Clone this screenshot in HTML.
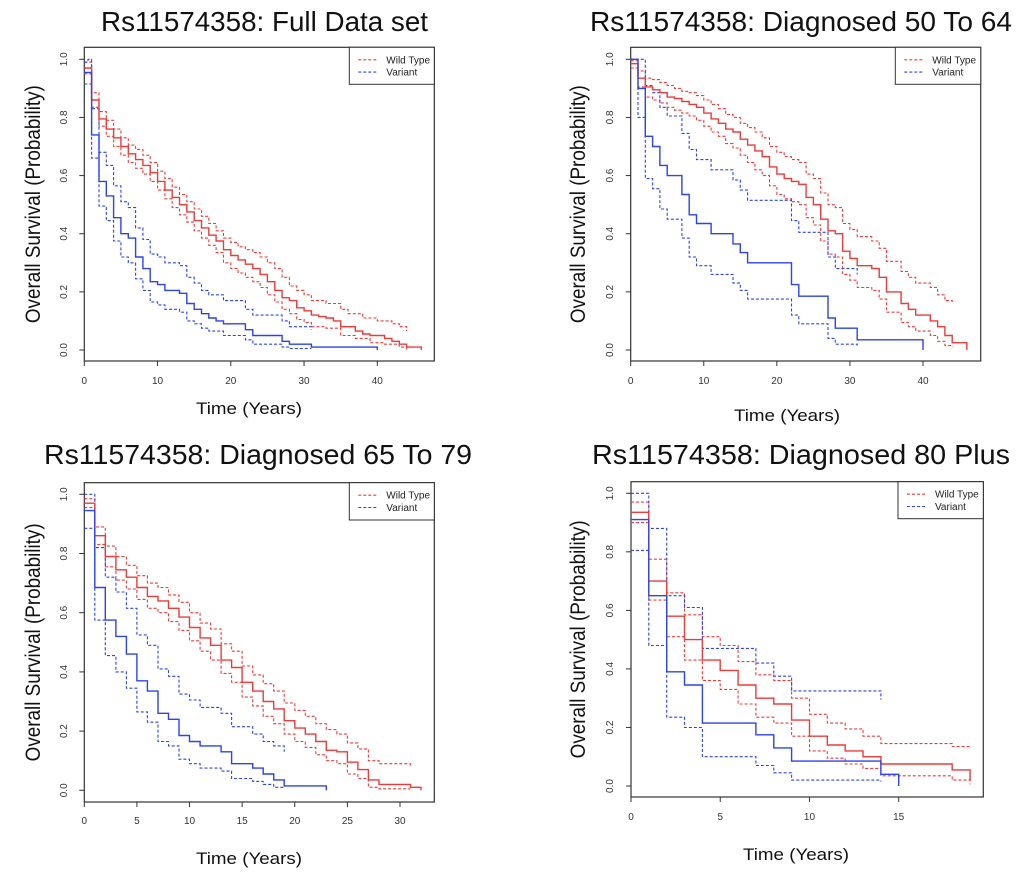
<!DOCTYPE html>
<html><head><meta charset="utf-8">
<style>
html,body{margin:0;padding:0;background:#fff;}
svg{display:block;font-family:"Liberation Sans",sans-serif;}
</style></head>
<body>
<svg id="fig" width="1020" height="872" viewBox="0 0 1020 872" xmlns="http://www.w3.org/2000/svg"></svg>
<script>
// ---- Panel 1: Full data set ----
const p1WtT = [0,1,2,3,4,5,6,7,8,9,10,11,12,13,14,15,16,17,18,19,20,21,22,23,24,25,26,27,28,29,30,31,32,33,34,35,37,38,39,41,42,43,44,46];
const p1WtS = [0.97,0.86,0.795,0.76,0.73,0.70,0.675,0.655,0.635,0.61,0.58,0.55,0.525,0.50,0.475,0.445,0.42,0.395,0.375,0.345,0.325,0.31,0.295,0.28,0.26,0.235,0.205,0.18,0.17,0.145,0.135,0.12,0.115,0.11,0.10,0.08,0.065,0.055,0.05,0.04,0.03,0.02,0.01,0.0];
const p1WtUT = [0,1,2,3,4,5,6,7,8,9,10,11,12,13,14,15,16,17,18,19,20,21,22,23,24,25,26,27,28,29,30,31,33,35,36,38,40,42,43,44];
const p1WtUS = [0.99,0.885,0.82,0.79,0.76,0.73,0.705,0.69,0.67,0.645,0.615,0.59,0.56,0.535,0.51,0.485,0.46,0.435,0.41,0.385,0.37,0.355,0.345,0.335,0.32,0.30,0.28,0.25,0.22,0.205,0.19,0.17,0.16,0.14,0.125,0.11,0.10,0.09,0.08,0.065];
const p1WtLT = [0,1,2,3,4,5,6,7,8,9,10,11,12,13,14,15,16,17,18,19,20,21,22,23,24,25,26,27,28,29,30,31,33,35,37,39,41,43,44];
const p1WtLS = [0.95,0.835,0.77,0.735,0.70,0.67,0.645,0.625,0.605,0.58,0.55,0.52,0.49,0.465,0.44,0.41,0.385,0.36,0.335,0.30,0.28,0.265,0.25,0.235,0.215,0.19,0.165,0.14,0.125,0.105,0.095,0.08,0.075,0.05,0.04,0.025,0.02,0.01,0.0];
const p1VaT = [0,1,2,3,4,5,6,7,8,9,10,11,13,14,15,16,17,18,19,22,23,27,28,31,40];
const p1VaS = [0.955,0.74,0.58,0.53,0.455,0.40,0.385,0.32,0.28,0.235,0.225,0.205,0.195,0.16,0.14,0.125,0.11,0.10,0.09,0.07,0.05,0.03,0.02,0.01,0.0];
const p1VaUT = [0,0.5,1,2,3,4,5,6,7,8,9,10,11,13,14,15,16,17,19,22,23,27,28,31];
const p1VaUS = [0.99,1.0,0.83,0.68,0.635,0.565,0.51,0.49,0.42,0.38,0.33,0.32,0.30,0.29,0.25,0.23,0.205,0.19,0.17,0.14,0.12,0.10,0.08,0.07];
const p1VaLT = [0,1,2,3,4,5,6,7,8,9,10,11,13,14,15,16,17,19,22,23,27,28,31];
const p1VaLS = [0.915,0.66,0.495,0.445,0.375,0.32,0.30,0.245,0.205,0.165,0.155,0.14,0.13,0.10,0.09,0.075,0.065,0.05,0.035,0.02,0.01,0.005,0.005];

// ---- Panel 2: Diagnosed 50 to 64 ----
const p2WtT = [0,1,2,3,4,5,6,7,8,9,10,11,12,13,14,15,16,17,18,19,20,21,22,23,24,25,26,27,28,29,30,31,33,34,35,37,38,39,41,42,43,44,46];
const p2WtS = [0.985,0.935,0.905,0.895,0.885,0.87,0.865,0.855,0.845,0.835,0.815,0.795,0.78,0.76,0.75,0.725,0.705,0.685,0.665,0.63,0.605,0.59,0.58,0.57,0.525,0.50,0.45,0.41,0.40,0.34,0.315,0.29,0.28,0.25,0.20,0.16,0.14,0.12,0.10,0.08,0.05,0.025,0.0];
const p2WtUT = [0,1,2,3,4,5,6,7,8,9,10,11,12,13,14,15,16,17,18,19,20,21,22,23,24,25,26,27,28,29,30,31,33,34,35,37,38,39,41,42,43,44];
const p2WtUS = [0.995,0.96,0.935,0.93,0.92,0.91,0.90,0.89,0.885,0.875,0.86,0.845,0.83,0.81,0.80,0.78,0.765,0.75,0.73,0.70,0.68,0.665,0.655,0.645,0.605,0.59,0.54,0.50,0.49,0.435,0.415,0.39,0.375,0.35,0.305,0.27,0.25,0.23,0.215,0.19,0.17,0.165];
const p2WtLT = [0,1,2,3,4,5,6,7,8,9,10,11,12,13,14,15,16,17,18,19,20,21,22,23,24,25,26,27,28,29,30,31,33,34,35,37,38,39,41,42,43,44];
const p2WtLS = [0.97,0.905,0.87,0.86,0.85,0.835,0.825,0.815,0.805,0.79,0.77,0.75,0.735,0.71,0.695,0.67,0.645,0.62,0.60,0.565,0.535,0.52,0.51,0.50,0.455,0.43,0.375,0.33,0.32,0.26,0.24,0.215,0.205,0.175,0.13,0.095,0.08,0.065,0.05,0.03,0.015,0.01];
const p2VaT = [0,1,2,3,4,5,7,8,9,11,14,15,16,22,23,27,28,31,40];
const p2VaS = [1.0,0.90,0.735,0.70,0.635,0.60,0.535,0.465,0.435,0.40,0.365,0.335,0.30,0.225,0.185,0.11,0.075,0.035,0.0];
const p2VaUT = [0,2,3,4,5,7,8,9,11,14,15,16,22,23,27,28,31];
const p2VaUS = [1.0,0.91,0.885,0.835,0.805,0.745,0.69,0.655,0.62,0.585,0.55,0.515,0.445,0.405,0.32,0.28,0.26];
const p2VaLT = [0,1,2,3,4,5,7,8,9,11,14,15,16,22,23,27,28,31];
const p2VaLS = [1.0,0.80,0.59,0.555,0.485,0.45,0.385,0.32,0.29,0.26,0.23,0.205,0.175,0.12,0.09,0.04,0.02,0.015];

// ---- Panel 3: Diagnosed 65 to 79 ----
const p3WtT = [0,1,2,3,4,5,6,7,8,9,10,11,12,13,14,15,16,17,18,19,20,21,22,23,24,25,26,27,28,31,32];
const p3WtS = [0.97,0.86,0.79,0.745,0.72,0.685,0.655,0.64,0.615,0.585,0.55,0.515,0.49,0.44,0.415,0.365,0.335,0.30,0.275,0.235,0.21,0.19,0.165,0.135,0.13,0.095,0.07,0.035,0.02,0.01,0.0];
const p3WtUT = [0,1,2,3,4,5,6,7,8,9,10,11,12,13,14,15,16,17,18,19,20,21,22,23,24,25,26,27,28,31];
const p3WtUS = [0.985,0.89,0.825,0.79,0.76,0.725,0.70,0.685,0.66,0.635,0.60,0.565,0.545,0.495,0.47,0.42,0.39,0.36,0.335,0.295,0.27,0.25,0.225,0.205,0.19,0.16,0.14,0.10,0.09,0.08];
const p3WtLT = [0,1,2,3,4,5,6,7,8,9,10,11,12,13,14,15,16,17,18,19,20,21,22,23,24,25,26,27,28,31];
const p3WtLS = [0.955,0.83,0.755,0.71,0.68,0.645,0.615,0.60,0.57,0.54,0.505,0.47,0.44,0.395,0.365,0.315,0.285,0.25,0.225,0.19,0.165,0.145,0.12,0.10,0.09,0.055,0.04,0.01,0.005,0.005];
const p3VaT = [0,1,2,3,4,5,6,7,8,9,10,11,13,14,16,17,18,19,23];
const p3VaS = [0.945,0.685,0.575,0.52,0.46,0.37,0.335,0.26,0.24,0.185,0.165,0.15,0.13,0.09,0.075,0.055,0.035,0.015,0.0];
const p3VaUT = [0,1,2,3,4,5,6,7,8,9,10,11,13,14,16,17,18,19];
const p3VaUS = [1.0,0.82,0.72,0.67,0.615,0.525,0.49,0.41,0.385,0.325,0.305,0.28,0.26,0.215,0.19,0.165,0.15,0.13];
const p3VaLT = [0,1,2,3,4,5,6,7,8,9,10,11,13,14,16,17,18,19];
const p3VaLS = [0.885,0.575,0.455,0.40,0.345,0.265,0.23,0.165,0.15,0.105,0.09,0.075,0.065,0.04,0.03,0.02,0.01,0.01];

// ---- Panel 4: Diagnosed 80 plus ----
const p4WtT = [0,1,2,3,4,5,6,7,8,9,10,11,12,13,14,18,19];
const p4WtS = [0.935,0.70,0.58,0.50,0.43,0.395,0.345,0.30,0.28,0.225,0.17,0.14,0.12,0.10,0.075,0.055,0.02];
const p4WtUT = [0,1,2,3,4,5,6,7,8,9,10,11,12,13,14,18,19];
const p4WtUS = [0.97,0.775,0.66,0.585,0.51,0.48,0.425,0.38,0.36,0.30,0.245,0.215,0.195,0.17,0.145,0.135,0.14];
const p4WtLT = [0,1,2,3,4,5,6,7,8,9,10,11,12,13,14,18,19];
const p4WtLS = [0.90,0.635,0.51,0.43,0.36,0.33,0.28,0.235,0.215,0.17,0.12,0.095,0.075,0.06,0.035,0.02,0.005];
const p4VaT = [0,1,2,3,4,7,8,9,14,15];
const p4VaS = [0.91,0.65,0.39,0.345,0.215,0.175,0.13,0.085,0.04,0.0];
const p4VaUT = [0,1,2,3,4,7,8,9,14];
const p4VaUS = [1.0,0.88,0.65,0.61,0.47,0.42,0.375,0.325,0.295];
const p4VaLT = [0,1,2,3,4,7,8,9,14];
const p4VaLS = [0.805,0.48,0.235,0.20,0.10,0.07,0.045,0.02,0.015];

const xTicks1 = [0,10,20,30,40];
const xTicks3 = [0,5,10,15,20,25,30];
const xTicks4 = [0,5,10,15];
const yTicks = [0.0,0.2,0.4,0.6,0.8,1.0];
const legendLabels = ["Wild Type","Variant"];
const titles = ["Rs11574358: Full Data set","Rs11574358: Diagnosed 50 To 64","Rs11574358: Diagnosed 65 To 79","Rs11574358: Diagnosed 80 Plus"];

const NS = "http://www.w3.org/2000/svg";
const svg = document.getElementById('fig');
const RED = "#ef3a3a", BLUE = "#2b43f0";
function mk(tag, attrs, parent){
  const e = document.createElementNS(NS, tag);
  for (const k in attrs) e.setAttribute(k, attrs[k]);
  (parent||svg).appendChild(e);
  return e;
}

const panels = [
  {title:titles[0], tx:101, tw:327, ty:31, L:84.3, R:434.3, T:47.3, B:361, x0:84.3, xmax:40, xR:377.3, y1:59.3, y0:350, ticks:xTicks1, xLabY:384, ytl:67, ytitleX:40, xtitleY:414, xtitleX:249,
   wt:[p1WtT,p1WtS], wtu:[p1WtUT,p1WtUS], wtl:[p1WtLT,p1WtLS], va:[p1VaT,p1VaS], vau:[p1VaUT,p1VaUS], val:[p1VaLT,p1VaLS], legL:349.3, legB:84.3},
  {title:titles[1], tx:590, tw:422, ty:31, L:630.7, R:980.7, T:47.3, B:361, x0:630.7, xmax:40, xR:923, y1:59.3, y0:350, ticks:xTicks1, xLabY:384, ytl:613, ytitleX:585, xtitleY:421, xtitleX:787,
   wt:[p2WtT,p2WtS], wtu:[p2WtUT,p2WtUS], wtl:[p2WtLT,p2WtLS], va:[p2VaT,p2VaS], vau:[p2VaUT,p2VaUS], val:[p2VaLT,p2VaLS], legL:895.3, legB:84.3},
  {title:titles[2], tx:44, tw:428, ty:464, L:84.3, R:434.3, T:482.7, B:802, x0:84.3, xmax:30, xR:400, y1:494.3, y0:790.3, ticks:xTicks3, xLabY:824, ytl:67, ytitleX:40, xtitleY:864, xtitleX:249,
   wt:[p3WtT,p3WtS], wtu:[p3WtUT,p3WtUS], wtl:[p3WtLT,p3WtLS], va:[p3VaT,p3VaS], vau:[p3VaUT,p3VaUS], val:[p3VaLT,p3VaLS], legL:349.3, legB:520},
  {title:titles[3], tx:592, tw:418, ty:464, L:631, R:983.3, T:481.7, B:797, x0:631, xmax:15, xR:898.7, y1:493.3, y0:786, ticks:xTicks4, xLabY:820, ytl:613, ytitleX:585, xtitleY:860, xtitleX:796,
   wt:[p4WtT,p4WtS], wtu:[p4WtUT,p4WtUS], wtl:[p4WtLT,p4WtLS], va:[p4VaT,p4VaS], vau:[p4VaUT,p4VaUS], val:[p4VaLT,p4VaLS], legL:898, legB:518.7}
];

function stepPath(xs, ys, t, s){
  let d = "M" + xs(t[0]).toFixed(1) + "," + ys(s[0]).toFixed(1);
  for (let i=1;i<t.length;i++){
    d += "H" + xs(t[i]).toFixed(1) + "V" + ys(s[i]).toFixed(1);
  }
  return d;
}

panels.forEach((p, pi) => {
  const g = mk('g', {});
  
  
  const xs = v => p.x0 + (p.xR - p.x0) * v / p.xmax;
  const ys = v => p.y0 + (p.y1 - p.y0) * v;

  const tt = mk('text', {x:p.tx, y:p.ty, 'font-size':28, textLength:p.tw, lengthAdjust:'spacingAndGlyphs', fill:'#111'}, g);
  tt.textContent = p.title;
  
  

  const box = mk('rect', {x:p.L, y:p.T, width:p.R-p.L, height:p.B-p.T, fill:'none', stroke:'#333', 'stroke-width':1.2}, g);
  
  

  // x ticks
  p.ticks.forEach(v => {
    const x = xs(v);
    mk('line', {x1:x, x2:x, y1:p.B, y2:p.B+5, stroke:'#333', 'stroke-width':1}, g);
    const tl = mk('text', {x:x, y:p.xLabY, 'font-size':10, 'text-anchor':'middle', fill:'#333'}, g);
    tl.textContent = String(v);
    
    
  });
  // y ticks
  yTicks.forEach(v => {
    const y = ys(v);
    mk('line', {x1:p.L, x2:p.L-5, y1:y, y2:y, stroke:'#333', 'stroke-width':1}, g);
    const tl = mk('text', {x:p.ytl, y:y, 'font-size':10, 'text-anchor':'middle', fill:'#333', transform:'rotate(-90 '+p.ytl+' '+y+')'}, g);
    tl.textContent = v.toFixed(1);
    
    
  });

  const yc = (p.T + p.B)/2;
  const yt = mk('text', {x:p.ytitleX, y:yc, 'font-size':21, 'text-anchor':'middle', fill:'#111', textLength:238, lengthAdjust:'spacingAndGlyphs', transform:'rotate(-90 '+p.ytitleX+' '+yc+')'}, g);
  yt.textContent = "Overall Survival (Probability)";
  
  

  const xt = mk('text', {x:p.xtitleX, y:p.xtitleY, 'font-size':17, 'text-anchor':'middle', fill:'#111', textLength:106, lengthAdjust:'spacingAndGlyphs'}, g);
  xt.textContent = "Time (Years)";
  
  

  const series = [
    [p.wtu, RED, true, 'wild-type-upper-ci'], [p.wtl, RED, true, 'wild-type-lower-ci'],
    [p.vau, BLUE, true, 'variant-upper-ci'], [p.val, BLUE, true, 'variant-lower-ci'],
    [p.wt, RED, false, 'wild-type-curve'], [p.va, BLUE, false, 'variant-curve']
  ];
  series.forEach(s => {
    const path = mk('path', {d:stepPath(xs, ys, s[0][0], s[0][1]), fill:'none', stroke:s[1], 'stroke-width':s[2]?1.1:1.4}, g);
    if (s[2]) path.setAttribute('stroke-dasharray', '3,2');
    
    
  });

  // legend
  const lg = mk('g', {}, g);
  
  
  mk('rect', {x:p.legL, y:p.T, width:p.R-p.legL, height:p.legB-p.T, fill:'#fff', stroke:'#333', 'stroke-width':1}, lg);
  legendLabels.forEach((lab, i) => {
    const y = p.T + 12.5 + i*12.3;
    const ln = mk('line', {x1:p.legL+9, x2:p.legL+28, y1:y, y2:y, stroke:i===0?RED:BLUE, 'stroke-width':1.1, 'stroke-dasharray':'3,2'}, lg);
    
    
    const lt = mk('text', {x:p.legL+37, y:y+3.5, 'font-size':10, fill:'#222'}, lg);
    lt.textContent = lab;
    
    
  });
});
</script>
</body></html>
